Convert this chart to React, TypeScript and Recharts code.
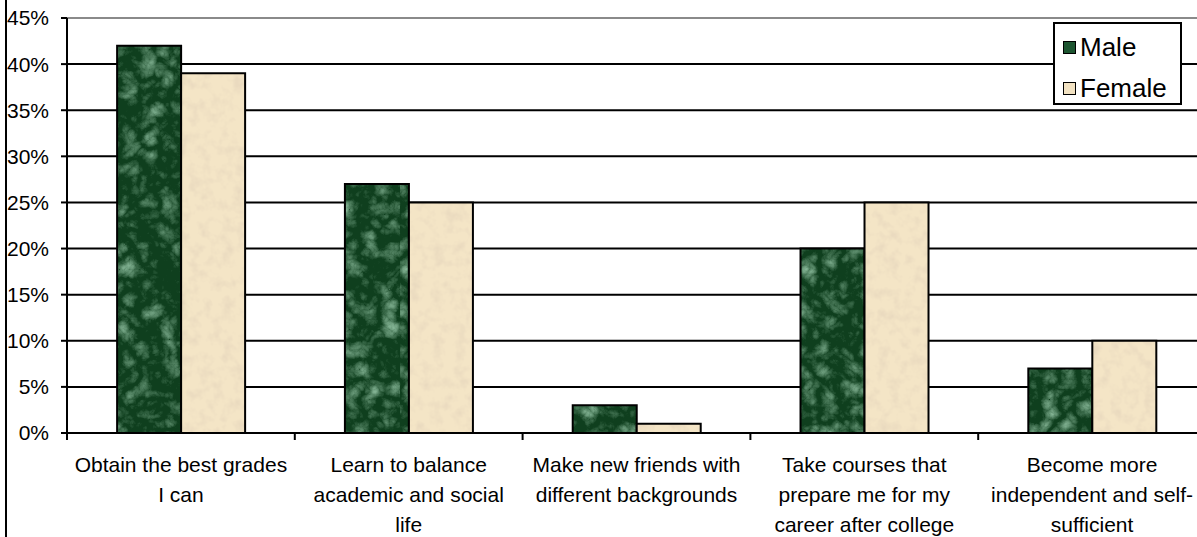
import React from "react";
import { BarChart, Bar, XAxis, YAxis, CartesianGrid, ReferenceLine } from "recharts";

const categories = [
  "Obtain the best grades\nI can",
  "Learn to balance\nacademic and social\nlife",
  "Make new friends with\ndifferent backgrounds",
  "Take courses that\nprepare me for my\ncareer after college",
  "Become more\nindependent and self-\nsufficient",
];
const maleValues = [42, 27, 3, 20, 7];
const femaleValues = [39, 25, 1, 25, 10];
const yTicks = [0, 5, 10, 15, 20, 25, 30, 35, 40, 45];
const seriesNames = ["Male", "Female"];
const seriesColors = ["#1d5530", "#f2e2c2"];

const data = categories.map((c, i) => ({ name: c, Male: maleValues[i], Female: femaleValues[i] }));

const FONT = "'Liberation Sans', Arial, sans-serif";
const CHART_W = 1206;
const CHART_H = 537;
const Y_AXIS_W = 67;
const HALF_BAND = (CHART_W - Y_AXIS_W) / categories.length / 2;

const CategoryTick = (props: any) => {
  const { x, y, payload } = props;
  const lines: string[] = String(payload.value).split("\n");
  return (
    <g>
      <line x1={x - HALF_BAND} x2={x - HALF_BAND} y1={y} y2={y + 7} stroke="#000" strokeWidth={2} />
      {lines.map((l, i) => (
        <text
          key={i}
          x={x}
          y={y + 31 + i * 30}
          textAnchor="middle"
          dominantBaseline="central"
          fontFamily={FONT}
          fontSize={21}
          fill="#000"
        >
          {l}
        </text>
      ))}
    </g>
  );
};

const LegendBox = () => (
  <div
    style={{
      position: "absolute",
      left: 1053,
      top: 22,
      width: 125,
      height: 79,
      border: "2px solid #000",
      background: "#fff",
      fontFamily: FONT,
      fontSize: 26,
      color: "#000",
      zIndex: 3,
    }}
  >
    {seriesNames.map((label, i) => (
      <div
        key={label}
        style={{ position: "absolute", left: 8, top: i === 0 ? 7 : 48, display: "flex", alignItems: "center", height: 32 }}
      >
        <div style={{ width: 11, height: 11, border: "1.5px solid #000", background: seriesColors[i], marginRight: 4 }} />
        <span style={{ lineHeight: "32px" }}>{label}</span>
      </div>
    ))}
  </div>
);

export default function App() {
  return (
    <div
      style={{
        position: "absolute",
        left: 0,
        top: 0,
        width: 1197,
        height: 537,
        overflow: "hidden",
        background: "#fff",
      }}
    >
      <div style={{ position: "absolute", left: 5, top: 0, width: 2, height: 537, background: "#000", zIndex: 2 }} />
      <LegendBox />
      <BarChart
        width={CHART_W}
        height={CHART_H}
        data={data}
        margin={{ top: 18, right: 0, bottom: 0, left: 0 }}
        barCategoryGap="22%"
        barGap={0}
      >
        <defs>
          <filter id="greenNoise" x="0" y="0" width="100%" height="100%">
            <feTurbulence type="turbulence" baseFrequency="0.05" numOctaves={4} seed={7} result="n" />
            <feColorMatrix
              in="n"
              type="matrix"
              values="0 0 0 0 0.30  0 0 0 0 0.56  0 0 0 0 0.38  1.4 0 0 0 -0.3"
            />
          </filter>
          <filter id="tanNoise" x="0" y="0" width="100%" height="100%">
            <feTurbulence type="fractalNoise" baseFrequency="0.09" numOctaves={3} seed={3} result="n" />
            <feColorMatrix
              in="n"
              type="matrix"
              values="0 0 0 0 0.82  0 0 0 0 0.70  0 0 0 0 0.52  2.4 0 0 0 -1.05"
            />
          </filter>
          <pattern id="maleFill" patternUnits="userSpaceOnUse" x="0" y="0" width="400" height="537">
            <rect width="400" height="537" fill="#0f3f1e" />
            <rect width="400" height="537" filter="url(#greenNoise)" />
          </pattern>
          <pattern id="femaleFill" patternUnits="userSpaceOnUse" x="0" y="0" width="400" height="537">
            <rect width="400" height="537" fill="#f4e5c6" />
            <rect width="400" height="537" filter="url(#tanNoise)" />
          </pattern>
        </defs>
        <CartesianGrid vertical={false} stroke="#000" strokeWidth={2} />
        <XAxis
          dataKey="name"
          height={CHART_H - 18 - 415}
          interval={0}
          tickLine={false}
          tickSize={0}
          tickMargin={0}
          axisLine={{ stroke: "#000", strokeWidth: 2 }}
          tick={<CategoryTick />}
        />
        <YAxis
          width={Y_AXIS_W}
          domain={[0, 45]}
          ticks={yTicks}
          interval={0}
          tickFormatter={(v: number) => `${v}%`}
          axisLine={{ stroke: "#000", strokeWidth: 2 }}
          tickLine={{ stroke: "#000", strokeWidth: 2 }}
          tickSize={6}
          tickMargin={12}
          tick={{ fontFamily: FONT, fontSize: 21, fill: "#000" }}
        />
        <ReferenceLine y={45} stroke="#8a8a8a" strokeWidth={2} />
        <Bar dataKey="Male" fill="url(#maleFill)" stroke="#000" strokeWidth={2} isAnimationActive={false} />
        <Bar dataKey="Female" fill="url(#femaleFill)" stroke="#000" strokeWidth={2} isAnimationActive={false} />
      </BarChart>
    </div>
  );
}
